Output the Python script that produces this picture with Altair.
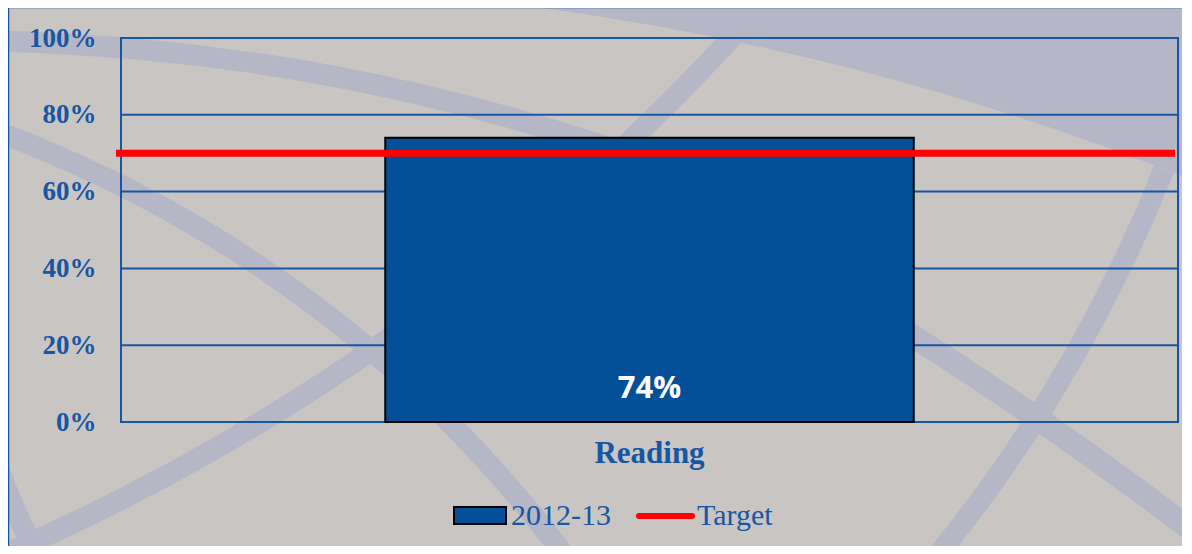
import altair as alt
import pandas as pd

categories = ["Reading"]
values_2012_13 = [0.74]
target_values = [0.70]
y_ticks = [0, 0.2, 0.4, 0.6, 0.8, 1.0]
legend_labels = ["2012-13", "Target"]

bars = pd.DataFrame({"subject": categories, "value": values_2012_13})
tgt = pd.DataFrame({"target": target_values})
grid = pd.DataFrame({"tick": y_ticks})
one = pd.DataFrame({"a": [0]})

W, H = 1057, 384
BLUE = "#1756a2"
BAR = "#034f98"
BG = "#c9c5c2"
SWIRL = "#b5b6c6"
SERIF = "Liberation Serif"

y_scale = alt.Scale(domain=[0, 1], nice=False)
y_axis = alt.Axis(values=y_ticks, format=".0%", labelFont=SERIF, labelFontSize=27,
                  labelColor=BLUE, labelFontWeight="bold", ticks=False, domain=False,
                  grid=False, labelPadding=25, zindex=1)

x_enc = alt.X("subject:N", title=None,
              scale=alt.Scale(paddingInner=0, paddingOuter=0.5),
              axis=alt.Axis(labelAngle=0, labelFont=SERIF, labelFontWeight="bold",
                            labelFontSize=31, labelColor=BLUE, ticks=False,
                            domain=False, labelPadding=16, grid=False, zindex=1))

# decorative background swirls (center x, center y, radius, thickness, theta, theta2)
swirl_specs = [
    (46.8, 2696.9, 2752.6, 260, 0.0, 0.5),
    (-173.7, 2090.0, 2087.7, 21, 0.0, 0.37),
    (-1351.4, 3673.0, 3998.0, 23, 0.53, 0.67),
    (-565.0, 1276.0, 1262.0, 21, 0.30, 1.0),
    (-980.0, -1469.0, 2165.0, 21, 2.30, 2.76),
    (-335.7, -418.0, 1484.0, 21, 1.95, 2.28),
    (479.0, 212.0, 640.0, 21, 4.18, 4.42),
]
swirls = []
for cx, cy, r, t, a0, a1 in swirl_specs:
    if t > 100:
        r_in, r_out = r, r + t
    else:
        r_in, r_out = r - t / 2, r + t / 2
    swirls.append(alt.Chart(one).mark_arc(color=SWIRL).encode(
        x=alt.value(cx), y=alt.value(cy),
        radius=alt.value(r_out), radius2=alt.value(r_in),
        theta=alt.value(a0), theta2=alt.value(a1)))

border = alt.Chart(one).mark_rect(fillOpacity=0, stroke=BLUE, strokeWidth=2.5).encode(
    x=alt.value(-113), x2=alt.value(W + 60), y=alt.value(-31), y2=alt.value(H + 200))
frame = alt.Chart(one).mark_rect(fillOpacity=0, stroke=BLUE, strokeWidth=2).encode(
    x=alt.value(0), x2=alt.value(W), y=alt.value(0), y2=alt.value(H))

gridlines = alt.Chart(grid).mark_rule(color=BLUE, strokeWidth=2).encode(
    y=alt.Y("tick:Q", title=None, scale=y_scale, axis=y_axis))

bar = alt.Chart(bars).mark_bar(color=BAR, stroke="black", strokeWidth=2).encode(
    x=x_enc,
    y=alt.Y("value:Q", title=None, scale=y_scale, axis=y_axis))

label = alt.Chart(bars).mark_text(color="white", font="Open Sans", fontWeight="bold",
                                  fontSize=31, baseline="middle").encode(
    x=alt.X("subject:N"), y=alt.value(H - 33), text=alt.Text("value:Q", format=".0%"))

rule = alt.Chart(tgt).mark_rule(color="#ff0000", strokeWidth=7).encode(
    y=alt.Y("target:Q", title=None, scale=y_scale, axis=y_axis),
    x=alt.value(-5), x2=alt.value(W - 3))

leg_rect = alt.Chart(one).mark_rect(fill=BAR, stroke="black", strokeWidth=2).encode(
    x=alt.value(333), x2=alt.value(385), y=alt.value(469), y2=alt.value(486))
leg_t1 = alt.Chart(one).mark_text(align="left", baseline="middle", font=SERIF,
                                  fontSize=30, color=BLUE, text=legend_labels[0]).encode(
    x=alt.value(390), y=alt.value(478))
leg_rule = alt.Chart(one).mark_rule(color="#ff0000", strokeWidth=6, strokeCap="round").encode(
    x=alt.value(518), x2=alt.value(571), y=alt.value(478))
leg_t2 = alt.Chart(one).mark_text(align="left", baseline="middle", font=SERIF,
                                  fontSize=30, color=BLUE, text=legend_labels[1]).encode(
    x=alt.value(576), y=alt.value(478))

chart = alt.layer(*swirls, border, frame, gridlines, bar, label, rule,
                  leg_rect, leg_t1, leg_rule, leg_t2).properties(
    width=W, height=H,
    autosize=alt.AutoSizeParams(type="none"),
    padding={"left": 113, "top": 30, "right": 4, "bottom": 124},
).configure(background=BG).configure_view(stroke="transparent")

chart.save("out.html", embed_options={"renderer": "svg", "actions": False})
